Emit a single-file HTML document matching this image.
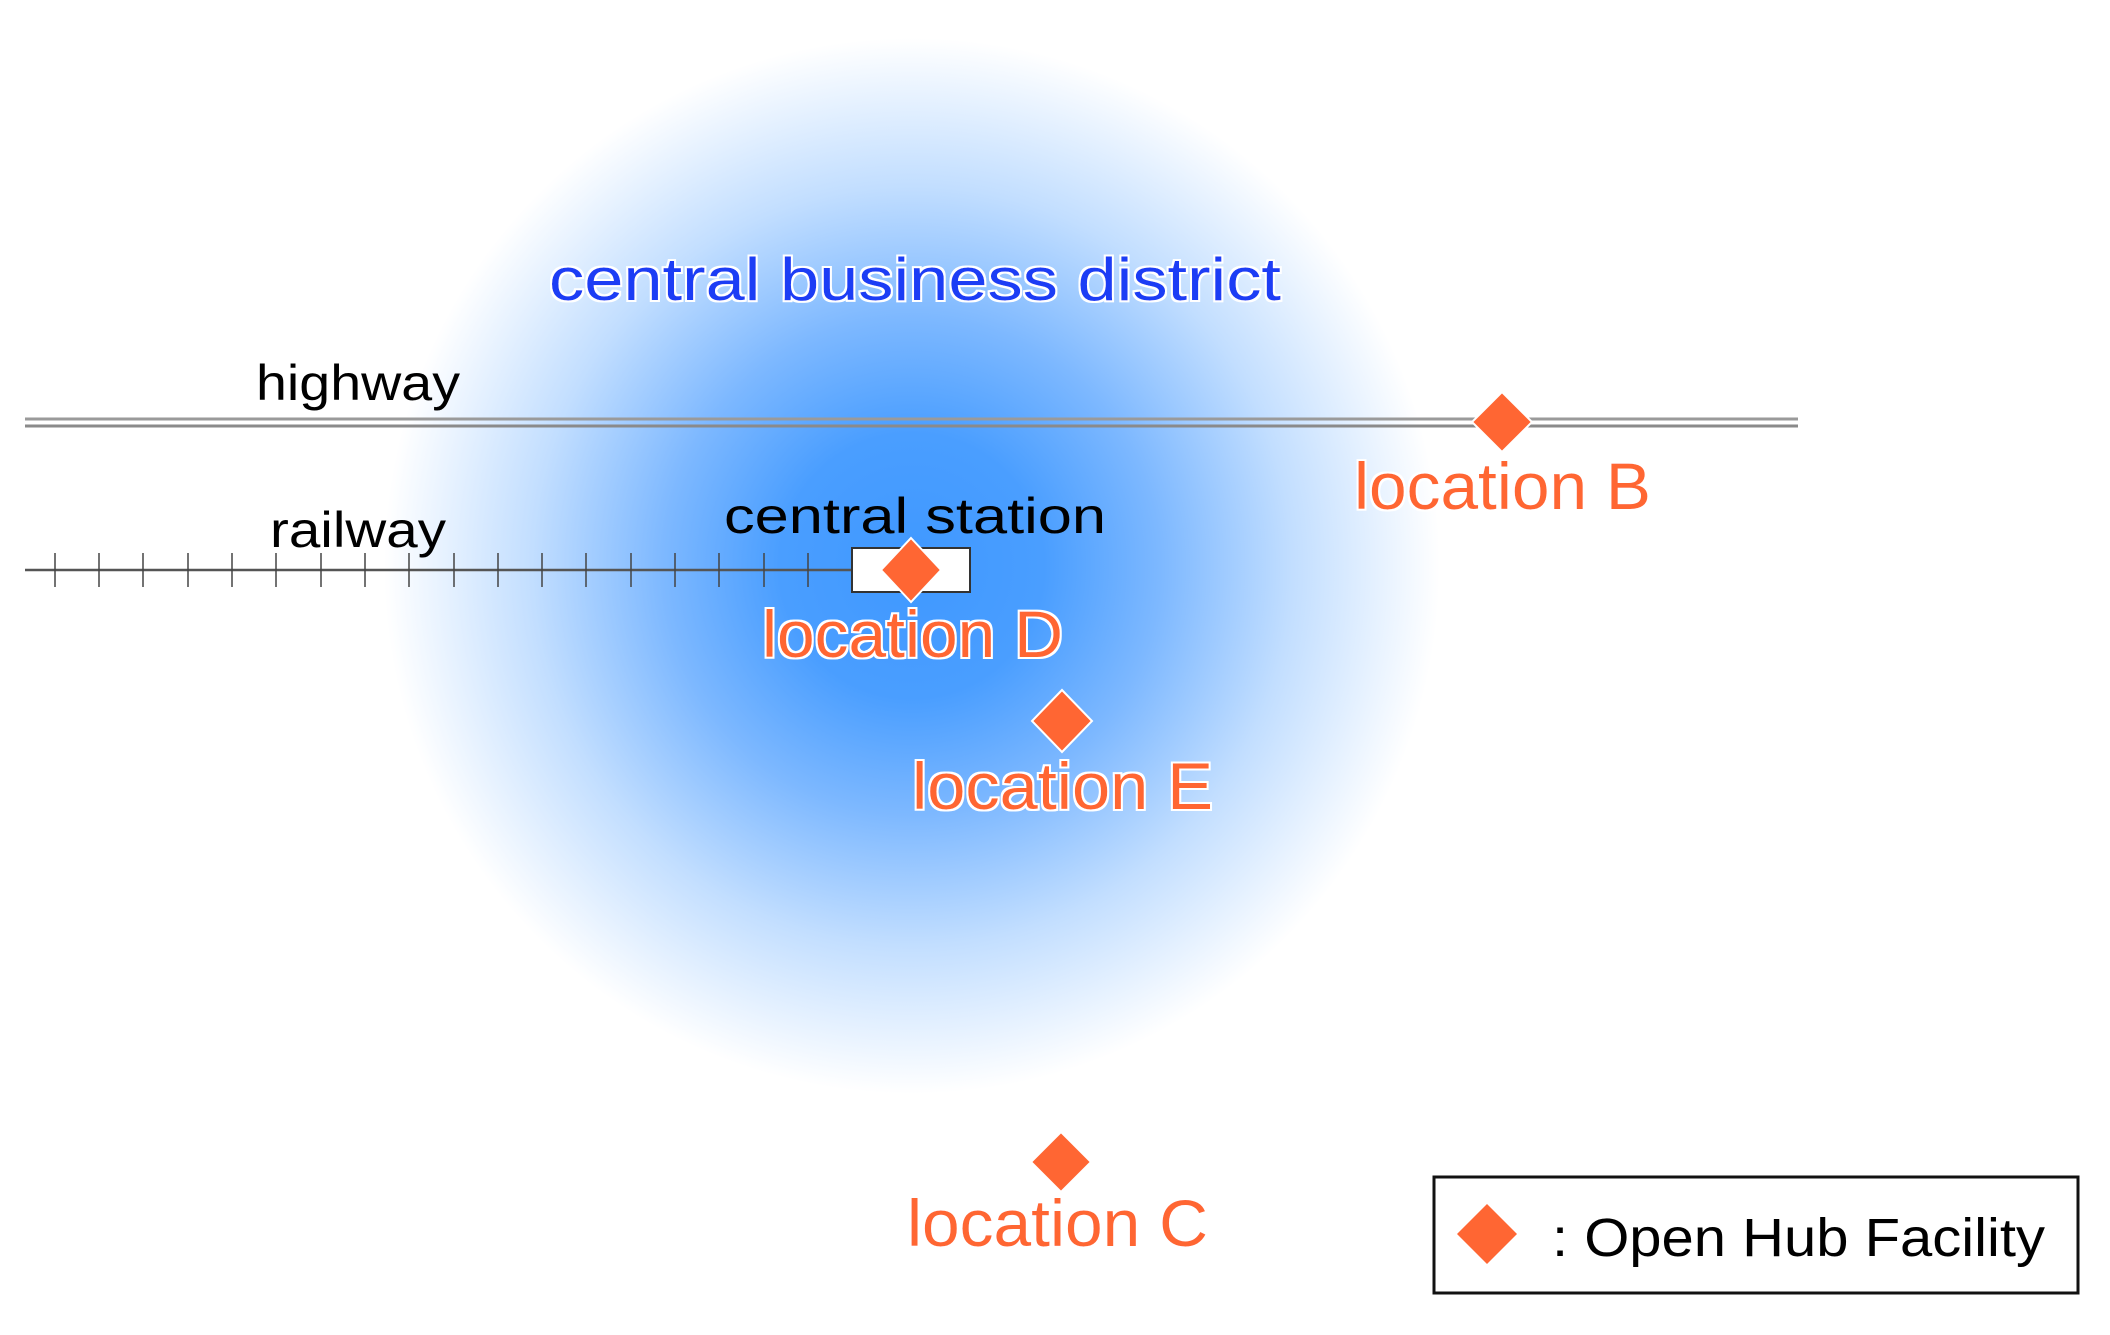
<!DOCTYPE html>
<html><head><meta charset="utf-8"><style>
html,body{margin:0;padding:0;background:#fff}
#bg{position:absolute;left:0;top:0;width:2110px;height:1335px;background:radial-gradient(circle 528px at 912px 566px,#3f98ff 0%,#4a9eff 25%,#7db8ff 47%,#c2deff 72%,#ffffff 100%)}
svg{position:absolute;left:0;top:0}
text{font-family:"Liberation Sans",sans-serif}
</style></head><body>
<div id="bg"></div>
<svg width="2110" height="1335" viewBox="0 0 2110 1335">
<defs><filter id="halo"><feMorphology in="SourceAlpha" operator="dilate" radius="2" result="d"/><feFlood flood-color="#fff"/><feComposite in2="d" operator="in"/><feMerge><feMergeNode/><feMergeNode in="SourceGraphic"/></feMerge></filter></defs>
<line x1="25" y1="419" x2="1798" y2="419" stroke="#9a9a9a" stroke-width="3"/>
<line x1="25" y1="426" x2="1798" y2="426" stroke="#8a8a8a" stroke-width="3"/>
<line x1="25" y1="570" x2="860" y2="570" stroke="#555" stroke-width="2.5"/>
<g stroke="#444" stroke-width="1.5">
<line x1="55" y1="553" x2="55" y2="587"/><line x1="99" y1="553" x2="99" y2="587"/><line x1="143" y1="553" x2="143" y2="587"/><line x1="188" y1="553" x2="188" y2="587"/><line x1="232" y1="553" x2="232" y2="587"/><line x1="276" y1="553" x2="276" y2="587"/><line x1="321" y1="553" x2="321" y2="587"/><line x1="365" y1="553" x2="365" y2="587"/><line x1="409" y1="553" x2="409" y2="587"/><line x1="454" y1="553" x2="454" y2="587"/><line x1="498" y1="553" x2="498" y2="587"/><line x1="542" y1="553" x2="542" y2="587"/><line x1="586" y1="553" x2="586" y2="587"/><line x1="631" y1="553" x2="631" y2="587"/><line x1="675" y1="553" x2="675" y2="587"/><line x1="719" y1="553" x2="719" y2="587"/><line x1="764" y1="553" x2="764" y2="587"/><line x1="808" y1="553" x2="808" y2="587"/>
</g>
<rect x="852" y="548" width="118" height="44" fill="#fff" stroke="#333" stroke-width="2"/>
<g fill="#ff6633" stroke="#fff" stroke-width="2">
<polygon points="1502,392 1532,422 1502,452 1472,422"/>
<polygon points="911,538 941,570 911,602 881,570"/>
<polygon points="1062,690 1092,721 1062,752 1032,721"/>
<polygon points="1061,1132 1091,1162 1061,1192 1031,1162"/>
</g>
<text x="549" y="300" font-size="60" fill="#1a3cf5" textLength="732" lengthAdjust="spacingAndGlyphs" filter="url(#halo)">central business district</text>
<text x="256" y="400" font-size="50" fill="#000" textLength="204" lengthAdjust="spacingAndGlyphs">highway</text>
<text x="270" y="547" font-size="50" fill="#000" textLength="176" lengthAdjust="spacingAndGlyphs">railway</text>
<text x="724" y="533" font-size="50" fill="#000" textLength="382" lengthAdjust="spacingAndGlyphs">central station</text>
<g fill="#ff6633" font-size="66" filter="url(#halo)">
<text x="1354" y="509" textLength="297" lengthAdjust="spacingAndGlyphs">location B</text>
<text x="762" y="657" textLength="301" lengthAdjust="spacingAndGlyphs">location D</text>
<text x="912" y="809" textLength="301" lengthAdjust="spacingAndGlyphs">location E</text>
<text x="907" y="1246" textLength="301" lengthAdjust="spacingAndGlyphs">location C</text>
</g>
<rect x="1434" y="1177" width="644" height="116" fill="#fff" stroke="#111" stroke-width="3"/>
<polygon points="1487,1204 1517,1234 1487,1264 1457,1234" fill="#ff6633"/>
<text x="1552" y="1256" font-size="54" fill="#000" textLength="493" lengthAdjust="spacingAndGlyphs">: Open Hub Facility</text>
</svg>
</body></html>
